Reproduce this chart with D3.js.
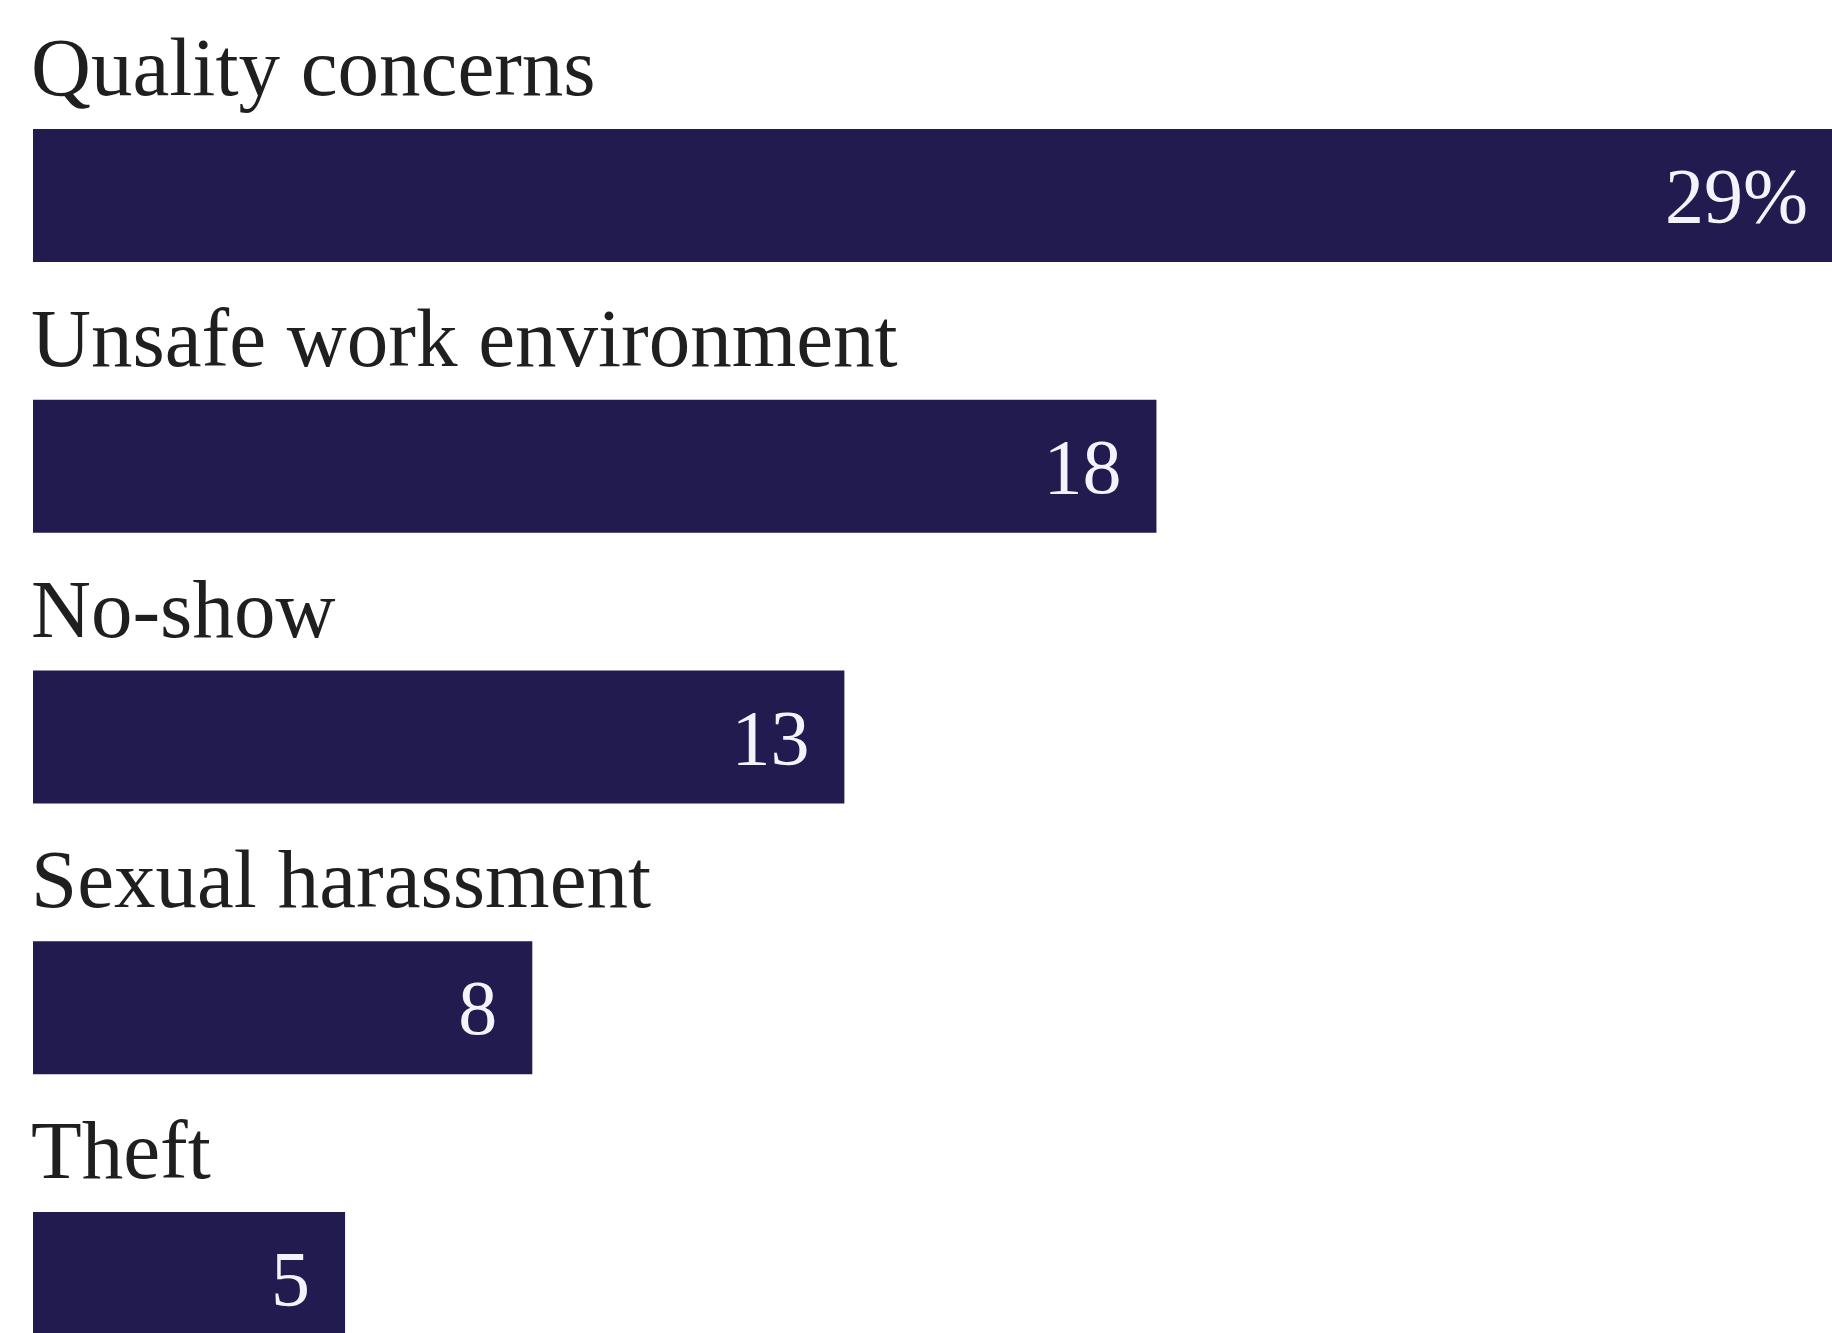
<!DOCTYPE html>
<html>
<head>
<meta charset="utf-8">
<script src="https://cdn.jsdelivr.net/npm/d3@7"></script>
<style>
  html, body { margin: 0; padding: 0; background: #ffffff; overflow: hidden; }
  svg { display: block; }
</style>
</head>
<body>
<svg id="chart" width="1832" height="1333"></svg>
<script>
// Reasons given, share of respondents (%)
const categories = ["Quality concerns", "Unsafe work environment", "No-show", "Sexual harassment", "Theft"];
const values = [29, 18, 13, 8, 5];
const valueLabels = ["29%", "18", "13", "8", "5"];

const W = 1832, H = 1333;
const svg = d3.select("#chart");

const barColor = "#221b50";
const rowStep = 270.75;
const rowTop = 95 - 34;          // first row starts just above the first category label
const barOffset = 68;            // label baseline to bar top spacing within a row
const barHeight = 133;

const x = d3.scaleLinear().domain([0, 29]).range([33, 1843]);
const y = d3.scaleBand()
  .domain(categories)
  .range([rowTop, rowTop + categories.length * rowStep])
  .paddingInner(0).paddingOuter(0);

const rows = svg.append("g")
  .selectAll("g.row")
  .data(categories.map((c, i) => ({ cat: c, value: values[i], label: valueLabels[i] })))
  .join("g")
  .attr("class", "row");

// category label above each bar
rows.append("text")
  .attr("x", 31)
  .attr("y", d => y(d.cat) + 34)
  .attr("font-family", "'Liberation Serif', 'Times New Roman', serif")
  .attr("font-size", 83)
  .attr("fill", "#1f1f1f")
  .text(d => d.cat);

// bars
rows.append("rect")
  .attr("x", x(0))
  .attr("y", d => y(d.cat) + barOffset)
  .attr("width", d => x(d.value) - x(0))
  .attr("height", barHeight)
  .attr("fill", barColor);

// value labels inside the bar end
rows.append("text")
  .attr("x", d => x(d.value) - 35)
  .attr("y", d => y(d.cat) + barOffset + barHeight / 2)
  .attr("dy", "0.34em")
  .attr("text-anchor", "end")
  .attr("font-family", "'Liberation Serif', 'Times New Roman', serif")
  .attr("font-size", 78)
  .attr("fill", "#f4f2fb")
  .text(d => d.label);
</script>
</body>
</html>
